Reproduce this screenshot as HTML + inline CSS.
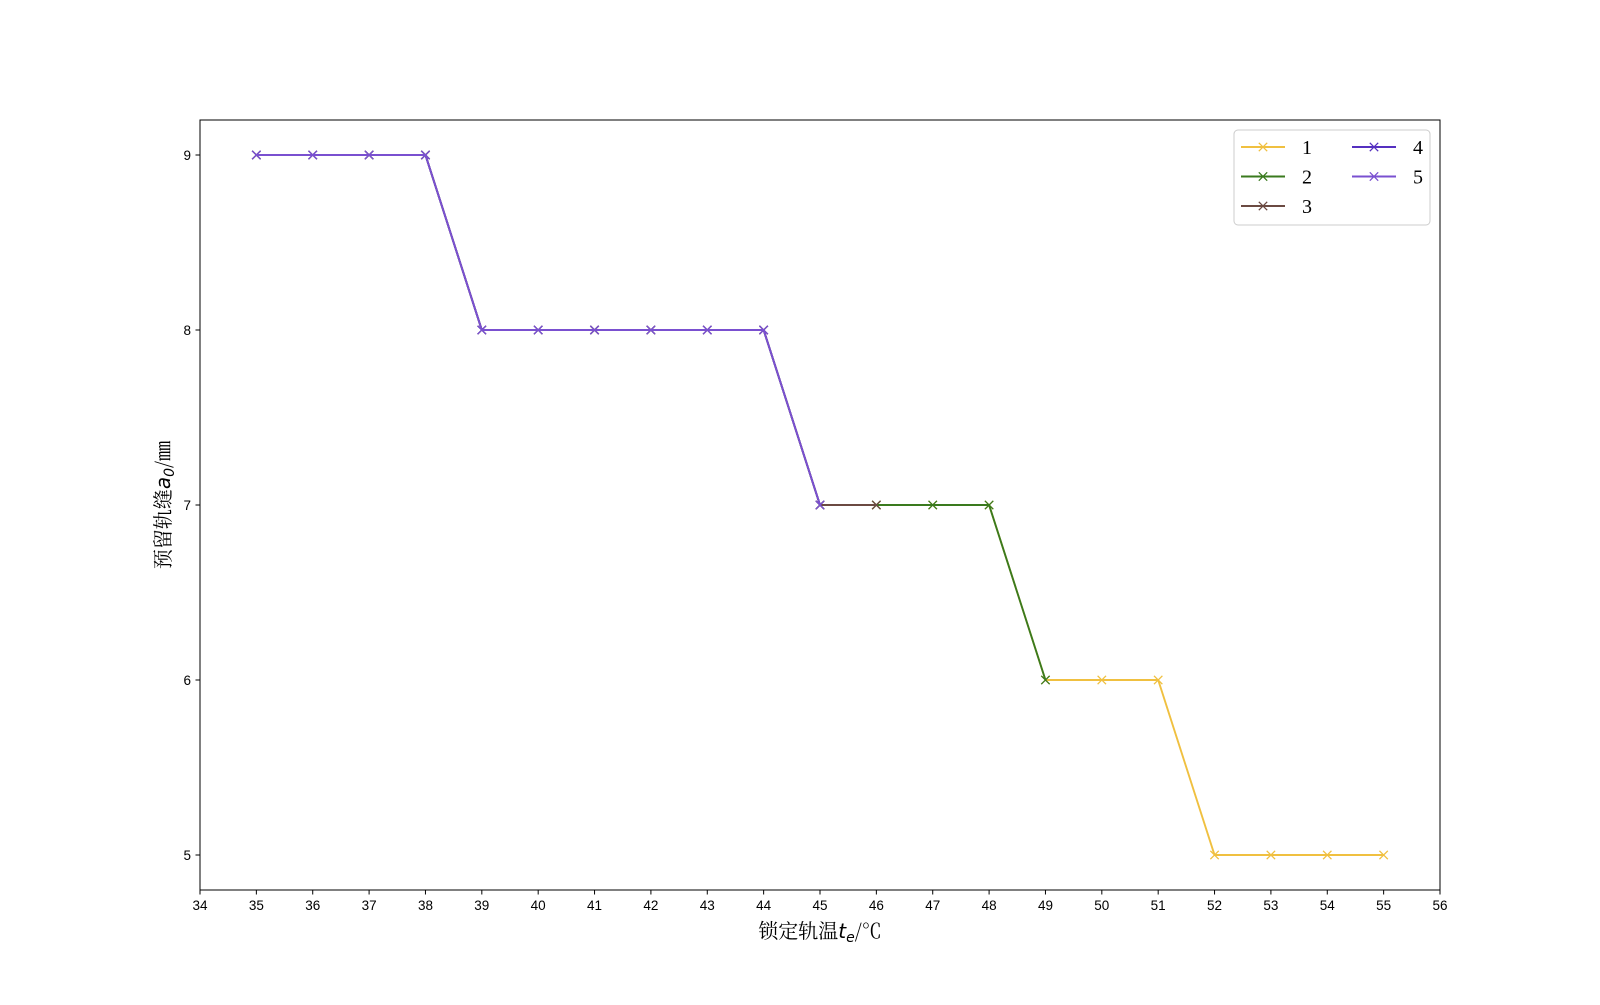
<!DOCTYPE html>
<html><head><meta charset="utf-8"><style>
body{margin:0;background:#fff;}
svg text{font-family:"Liberation Sans","Noto Sans CJK SC",sans-serif;}
</style></head><body>
<svg id="chart" width="1600" height="1000" xmlns="http://www.w3.org/2000/svg">
<rect x="200" y="120" width="1240" height="770" fill="#fff" stroke="#000" stroke-width="1"/>
<g id="ticks"></g>
<g id="series"></g>
<text x="820" y="938" font-size="20" text-anchor="middle" style="font-family:'Noto Serif CJK SC','Liberation Serif',serif">锁定轨温<tspan font-style="italic" style="font-family:'DejaVu Sans',sans-serif">t<tspan font-size="14" dy="4">e</tspan></tspan><tspan dy="-4">/℃</tspan></text>
<text transform="translate(170,505) rotate(-90)" font-size="20" text-anchor="middle" style="font-family:'Noto Serif CJK SC','Liberation Serif',serif">预留轨缝<tspan font-style="italic" style="font-family:'DejaVu Sans',sans-serif">a<tspan font-size="14" dy="4">0</tspan></tspan><tspan dy="-4">/㎜</tspan></text>
<g id="legend">
<rect x="1234" y="130" width="196" height="95" rx="4" fill="#fff" stroke="#ccc"/>
</g>
</svg>
<script>
const seriesNames=['1','2','3','4','5'];
const colors=['#f0c040','#3a7a1e','#6b4a42','#5530c0','#7a50d0'];
const xVals1=[35,36,37,38,39,40,41,42,43,44,45,46,47,48,49,50,51,52,53,54,55];
const yVals1=[9,9,9,9,8,8,8,8,8,8,7,7,7,7,6,6,6,5,5,5,5];
const xVals2=[35,36,37,38,39,40,41,42,43,44,45,46,47,48,49];
const yVals2=[9,9,9,9,8,8,8,8,8,8,7,7,7,7,6];
const xVals3=[35,36,37,38,39,40,41,42,43,44,45,46];
const yVals3=[9,9,9,9,8,8,8,8,8,8,7,7];
const xVals4=[35,36,37,38,39,40,41,42,43,44,45];
const yVals4=[9,9,9,9,8,8,8,8,8,8,7];
const xVals5=[35,36,37,38,39,40,41,42,43,44,45];
const yVals5=[9,9,9,9,8,8,8,8,8,8,7];
const xTicks=[34,35,36,37,38,39,40,41,42,43,44,45,46,47,48,49,50,51,52,53,54,55,56];
const yTicks=[5,6,7,8,9];
const NS='http://www.w3.org/2000/svg';
const X=v=>200+(v-34)/(56-34)*1240;
const Y=v=>890-(v-4.8)/(9.2-4.8)*770;
function mk(tag,attrs,parent){const e=document.createElementNS(NS,tag);for(const k in attrs)e.setAttribute(k,attrs[k]);parent.appendChild(e);return e;}
const tg=document.getElementById('ticks');
xTicks.forEach(t=>{
 const l=mk('line',{x1:X(t),x2:X(t),y1:890,y2:894.5,stroke:'#000'},tg);
 
 
 const tx=mk('text',{x:X(t),y:910,'font-size':13.5,'text-anchor':'middle'},tg);tx.textContent=t;
 
 
});
yTicks.forEach(t=>{
 const l=mk('line',{x1:195.5,x2:200,y1:Y(t),y2:Y(t),stroke:'#000'},tg);
 
 
 const tx=mk('text',{x:191,y:Y(t)+5,'font-size':13.5,'text-anchor':'end'},tg);tx.textContent=t;
 
 
});
const sg=document.getElementById('series');
const xs=[xVals1,xVals2,xVals3,xVals4,xVals5],ys=[yVals1,yVals2,yVals3,yVals4,yVals5];
function cross(g,cx,cy,c){mk('path',{d:`M${cx-4.2},${cy-4.2}L${cx+4.2},${cy+4.2}M${cx-4.2},${cy+4.2}L${cx+4.2},${cy-4.2}`,stroke:c,'stroke-width':1.3,fill:'none'},g);}
xs.forEach((xa,i)=>{
 const g=mk('g',{},sg);
 
 
 const pts=xa.map((x,j)=>X(x)+','+Y(ys[i][j])).join(' ');
 mk('polyline',{points:pts,fill:'none',stroke:colors[i],'stroke-width':1.9},g);
 xa.forEach((x,j)=>cross(g,X(x),Y(ys[i][j]),colors[i]));
});
const lg=document.getElementById('legend');
seriesNames.forEach((n,i)=>{
 const col=i<3?0:1,row=i<3?i:i-3;
 const x0=col?1352:1241,y0=147+row*29.5;
 const g=mk('g',{},lg);
 
 
 mk('line',{x1:x0,x2:x0+44,y1:y0,y2:y0,stroke:colors[i],'stroke-width':1.9},g);
 cross(g,x0+22,y0,colors[i]);
 const t=mk('text',{x:x0+61,y:y0+7,'font-size':20,style:"font-family:'Liberation Serif',serif"},g);t.textContent=n;
});
</script>
</body></html>
